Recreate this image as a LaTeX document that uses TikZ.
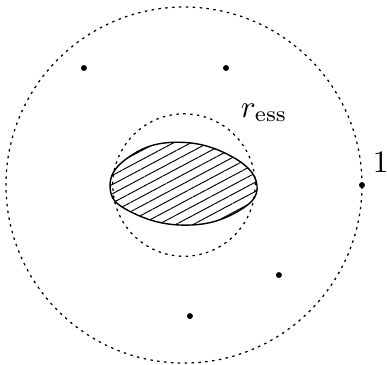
\documentclass[tikz,border=0pt]{standalone}
\usepackage{amsmath,amssymb}
\usepackage{tikz}
\usetikzlibrary{patterns.meta}
\tikzset{
  ring-line/.style={line width=0.4pt, dash pattern=on 0.8pt off 1.4pt},
  blob-fill/.style={draw=black, line width=0.45pt,
    pattern={Lines[angle=28, distance=2.6pt, line width=0.3pt]}},
  sample-pt/.style={circle, fill=black, inner sep=0pt, minimum size=1.9pt}
}

\begin{document}
\begin{tikzpicture}[x=1cm, y=1cm]
  \useasboundingbox (-2.067,-2.011) rectangle (2.281,2.079);

  % unit circle and essential radius
  \draw[ring-line] (0,0) circle (2);
  \draw[ring-line] (0,0) circle (0.8);

  % hatched set
  \draw[blob-fill] plot[smooth cycle, tension=0.75] coordinates
    {(-0.83,-0.03) (-0.64,0.30) (-0.12,0.48) (0.50,0.34) (0.82,0.00)
     (0.58,-0.31) (0.00,-0.45) (-0.60,-0.30)};

  % sample points
  \foreach \name/\x/\y in {pa/-1.124/1.315, pb/0.472/1.315, pc/2.0/0.0,
                           pd/1.067/-1.011, pe/0.067/-1.472} {
    \node[sample-pt] (\name) at (\x,\y) {};
  }

  % labels
  \node (ress) at (0.90,0.81) {$r_{\text{ess}}$};
  \node (one) at (2.21,0.25) {$1$};
\end{tikzpicture}
\end{document}
